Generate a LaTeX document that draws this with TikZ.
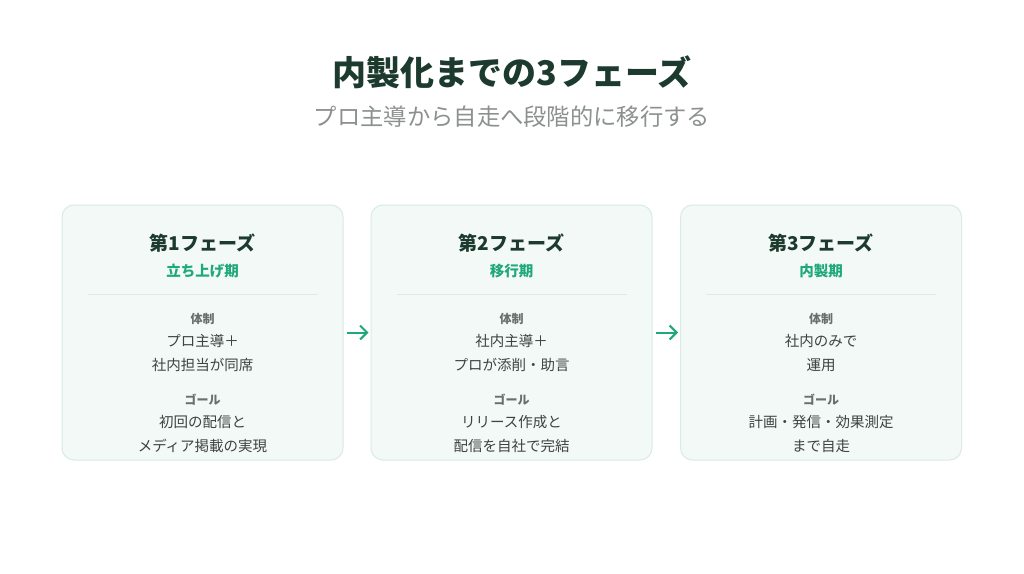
\documentclass[tikz,border=0pt]{standalone}
\usepackage{fontspec}
\setmainfont{Noto Sans CJK JP}
\usetikzlibrary{arrows.meta}
\definecolor{titlec}{HTML}{1C3A2E}
\definecolor{subc}{HTML}{8C918E}
\definecolor{accent}{HTML}{1FA87A}
\definecolor{cardfill}{HTML}{F3F9F6}
\definecolor{cardline}{HTML}{D8ECE2}
\definecolor{divc}{HTML}{DCEAE3}
\definecolor{labc}{HTML}{6A6F6C}
\definecolor{bodyc}{HTML}{3E4341}
\tikzset{
  card/.style={draw=cardline, line width=1pt, fill=cardfill, rounded corners=12pt,
    minimum width=281pt, minimum height=255pt, inner sep=0pt},
  phase/.style={font=\fontsize{19}{22}\selectfont\bfseries, text=titlec, inner sep=0pt},
  period/.style={font=\fontsize{14.5}{17}\selectfont\bfseries, text=accent, inner sep=0pt},
  lab/.style={font=\fontsize{12}{14}\selectfont\bfseries, text=labc, inner sep=0pt},
  body/.style={font=\fontsize{14.5}{23.5}\selectfont, text=bodyc, align=center, inner sep=0pt},
  divline/.style={draw=divc, line width=1pt},
  flow/.style={draw=accent, line width=2pt, -{Straight Barb[length=7pt,width=14pt,line width=2pt]}}
}
\begin{document}
\begin{tikzpicture}[x=1pt,y=-1pt]
\useasboundingbox (0,0) rectangle (1024,573);
\fill[white] (0,0) rectangle (1024,573);
\node[font=\fontsize{34}{38}\selectfont\bfseries, text=titlec] (title) at (512,72) {内製化までの3フェーズ};
\node[font=\fontsize{23.3}{26}\selectfont, text=subc] (sub) at (512,117) {プロ主導から自走へ段階的に移行する};

\foreach \i/\cx/\ph/\per/\ba/\bb/\ga/\gb in {
  1/202.5/第1フェーズ/立ち上げ期/プロ主導＋/社内担当が同席/初回の配信と/メディア掲載の実現,
  2/511.5/第2フェーズ/移行期/社内主導＋/プロが添削・助言/リリース作成と/配信を自社で完結,
  3/821/第3フェーズ/内製期/社内のみで/運用/計画・発信・効果測定/まで自走}{
  \node[card] (card\i) at (\cx,332.5) {};
  \node[phase] (ph\i) at (\cx,243) {\ph};
  \node[period] (per\i) at (\cx,271) {\per};
  \coordinate (dl\i) at (\cx-115,294.5);
  \coordinate (dr\i) at (\cx+115,294.5);
  \draw[divline] (dl\i) -- (dr\i);
  \node[lab] (lt\i) at (\cx,319) {体制};
  \node[body] (bt\i) at (\cx,353) {\ba\\\bb};
  \node[lab] (lg\i) at (\cx,400) {ゴール};
  \node[body] (bg\i) at (\cx,434) {\ga\\\gb};
}
\draw[flow] ([xshift=3pt]card1.east) -- ([xshift=-2pt]card2.west);
\draw[flow] ([xshift=3pt]card2.east) -- ([xshift=-2pt]card3.west);
\end{tikzpicture}
\end{document}
